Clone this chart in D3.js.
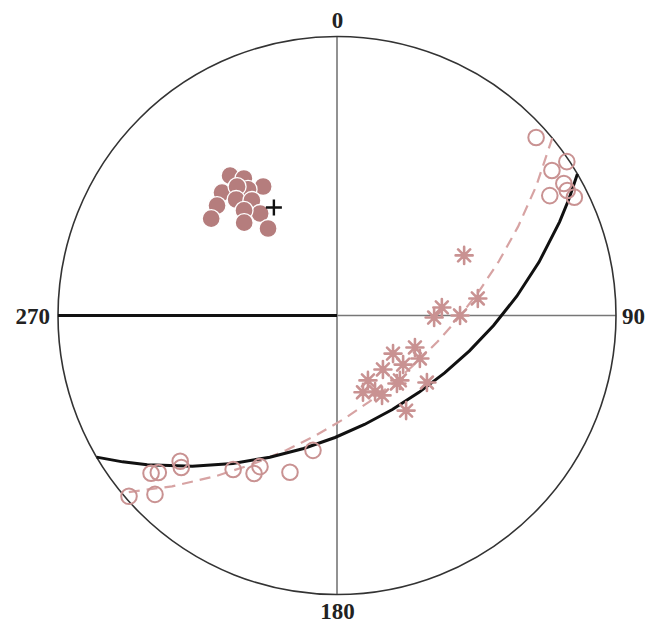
<!DOCTYPE html>
<html>
<head>
<meta charset="utf-8">
<script src="https://cdn.jsdelivr.net/npm/d3@7"></script>
<style>
html,body{margin:0;padding:0;background:#fff;}
svg{display:block;}
</style>
</head>
<body>
<svg id="chart" width="662" height="624"></svg>
<script>
// ---- data: [declination, inclination] in degrees (negative = upper hemisphere) ----
const lowerFilled = [
  [322.6,25.5],[325.8,28.6],[330.2,33.9],[316.9,27.8],[324.8,32.1],[322.2,29.4],
  [312.5,29.5],[319.0,32.3],[323.5,35.7],[323.0,40.8],[318.5,36.6],[307.6,30.7],
  [315.0,39.6],[321.6,46.6]
];
const upperOpen = [
  [48.2,-2.5],[56.2,-0.5],[56.0,-4.2],[59.8,-3.5],[60.6,-7.6],[61.5,-3.6],[63.5,-2.9],
  [229.0,-0.7],[225.5,-5.1],[229.7,-7.7],[228.7,-9.1],[227.1,-15.0],[225.7,-14.1],
  [214.0,-22.7],[207.7,-24.8],[207.0,-27.4],[196.7,-29.2],[190.1,-37.7]
];
const starDirs = [
  [64.7,36.5],[83.1,36.1],[85.6,48.7],[91.2,51.6],[90.0,42.4],[112.3,56.4],
  [124.2,62.7],[117.4,53.0],[126.6,57.1],[139.6,61.5],[135.9,54.1],[154.5,61.1],
  [138.6,54.0],[126.7,46.2],[161.3,57.6],[153.4,56.1],[150.6,53.6],[144.0,44.3]
];
const referenceDir = [329.7, 41.7];
// great circles: [strike, dip]
const solidPlane = [59.5, 47.3];
const dashedPlane = [50.5, 55.0];
const halfLine = [[270, 0], [270, 90]];
const axisDecs = [0, 90, 180, 270];
const axisLabels = ["0", "90", "180", "270"];

// ---- layout ----
const cx = 337, cy = 315.5, R = 279;
const svg = d3.select("#chart");

const projection = d3.geoStereographic()
  .rotate([180, -90])
  .reflectX(true)
  .scale(R)
  .translate([cx, cy])
  .clipAngle(91);
const path = d3.geoPath(projection);
const toGeo = d => [d[0], Math.abs(d[1])];
const proj = d => projection(toGeo(d));

const rose = "#b57d7d";
const roseLine = "#c99292";

// axes (thin gray)
svg.append("path")
  .attr("d", path({type:"LineString", coordinates:[[0,0],[0,90],[180,0]]}))
  .attr("fill","none").attr("stroke","#777").attr("stroke-width",1.6);
svg.append("path")
  .attr("d", path({type:"LineString", coordinates:[[90,0],[90,90]]}))
  .attr("fill","none").attr("stroke","#777").attr("stroke-width",1.6);

// primitive circle
svg.append("circle").attr("cx",cx).attr("cy",cy).attr("r",R)
  .attr("fill","none").attr("stroke","#333").attr("stroke-width",1.6);

// thick half line 270 -> center
svg.append("path")
  .attr("d", path({type:"LineString", coordinates:halfLine}))
  .attr("fill","none").attr("stroke","#111").attr("stroke-width",2.8);

function planeLine(p){
  const s = p[0], dip = p[1];
  return {type:"LineString", coordinates:[[s,0],[s+90,dip],[s+180,0]]};
}

// dashed great circle
svg.append("path")
  .attr("d", path(planeLine(dashedPlane)))
  .attr("fill","none").attr("stroke","#d7a3a3").attr("stroke-width",2.2)
  .attr("stroke-dasharray","11,7");

// solid great circle
svg.append("path")
  .attr("d", path(planeLine(solidPlane)))
  .attr("fill","none").attr("stroke","#111").attr("stroke-width",3);

// open circles
svg.append("g").selectAll("circle").data(upperOpen).join("circle")
  .attr("cx", d => proj(d)[0]).attr("cy", d => proj(d)[1]).attr("r", 7.8)
  .attr("fill","none").attr("stroke", roseLine).attr("stroke-width", 2);

// stars
const starPath = (() => {
  const r = 8.5; let s = "";
  for (let k = 0; k < 4; k++) {
    const a = k * Math.PI / 4, dx = r*Math.cos(a), dy = r*Math.sin(a);
    s += `M${-dx},${-dy}L${dx},${dy}`;
  }
  return s;
})();
svg.append("g").selectAll("path").data(starDirs).join("path")
  .attr("transform", d => `translate(${proj(d)[0]},${proj(d)[1]})`)
  .attr("d", starPath)
  .attr("stroke", roseLine).attr("stroke-width", 2.6).attr("stroke-linecap","round");

// filled circles
svg.append("g").selectAll("circle").data(lowerFilled).join("circle")
  .attr("cx", d => proj(d)[0]).attr("cy", d => proj(d)[1]).attr("r", 9)
  .attr("fill", rose).attr("stroke","#fff").attr("stroke-width",1.3);

// reference cross
const rp = proj(referenceDir);
svg.append("path")
  .attr("d", `M${rp[0]-8},${rp[1]}H${rp[0]+8}M${rp[0]},${rp[1]-8}V${rp[1]+8}`)
  .attr("stroke","#111").attr("stroke-width",2.4);

// labels
const labelFont = "'Liberation Serif', 'DejaVu Serif', serif";
axisDecs.forEach((dec, i) => {
  const p = projection([dec, 0]);
  const t = svg.append("text").text(axisLabels[i])
    .attr("font-family", labelFont).attr("font-weight","bold").attr("font-size", 23)
    .attr("fill","#222");
  if (dec === 0) t.attr("x", p[0]+0.5).attr("y", p[1]-9).attr("text-anchor","middle");
  else if (dec === 180) t.attr("x", p[0]+0.5).attr("y", p[1]+24).attr("text-anchor","middle");
  else if (dec === 90) t.attr("x", p[0]+6).attr("y", p[1]+8).attr("text-anchor","start");
  else t.attr("x", p[0]-8).attr("y", p[1]+8).attr("text-anchor","end");
});
</script>
</body>
</html>
